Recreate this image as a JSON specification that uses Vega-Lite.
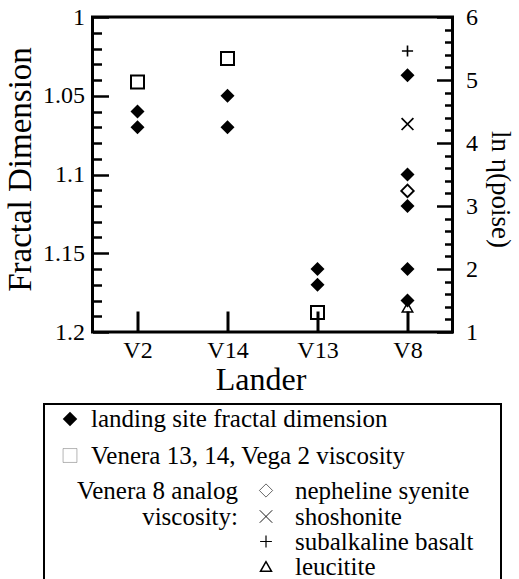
{
  "$schema": "https://vega.github.io/schema/vega-lite/v6.json",
  "background": "white",
  "padding": {"left": 2, "top": 3, "right": 0, "bottom": 0},
  "config": {
    "font": "Liberation Serif",
    "axis": {
      "labelFont": "Liberation Serif",
      "titleFont": "Liberation Serif",
      "labelColor": "black",
      "titleColor": "black",
      "tickColor": "black",
      "titleFontWeight": "normal",
      "domain": false,
      "grid": false,
      "labelOverlap": false,
      "labelFlush": false,
      "tickWidth": 2.5
    }
  },
  "bounds": "flush",
  "center": true,
  "spacing": 72,
  "resolve": {"scale": {"shape": "independent", "fill": "independent", "size": "independent", "strokeWidth": "independent"}},
  "vconcat": [
    {
      "width": 360,
      "height": 315,
      "view": {"stroke": "black", "strokeWidth": 3},
      "resolve": {"scale": {"y": "independent"}, "axis": {"y": "independent"}},
      "encoding": {
        "x": {
          "field": "lander",
          "type": "nominal",
          "sort": ["V2", "V14", "V13", "V8"],
          "scale": {"type": "point", "padding": 0.5},
          "axis": {
            "orient": "bottom",
            "tickSize": -21,
            "tickWidth": 3,
            "labelPadding": 27,
            "labelFont": "Liberation Serif",
            "labelFontSize": 24,
            "labelAngle": 0,
            "title": "Lander",
            "titleFont": "Liberation Serif",
            "titleFontSize": 32,
            "titleX": 168,
            "titleY": 57,
            "titleBaseline": "alphabetic"
          }
        }
      },
      "layer": [
        {
          "data": {"values": [
            {"lander": "V2", "fd": 1.06},
            {"lander": "V2", "fd": 1.07},
            {"lander": "V14", "fd": 1.05},
            {"lander": "V14", "fd": 1.07},
            {"lander": "V13", "fd": 1.16},
            {"lander": "V13", "fd": 1.17},
            {"lander": "V8", "fd": 1.037},
            {"lander": "V8", "fd": 1.10},
            {"lander": "V8", "fd": 1.12},
            {"lander": "V8", "fd": 1.16},
            {"lander": "V8", "fd": 1.18}
          ]},
          "mark": {"type": "point", "shape": "diamond", "filled": true, "color": "black", "size": 196, "opacity": 1},
          "encoding": {
            "y": {
              "field": "fd",
              "type": "quantitative",
              "scale": {"domain": [1, 1.2], "reverse": true, "zero": false, "nice": false},
              "axis": {
                "orient": "left",
                "values": [1, 1.01, 1.02, 1.03, 1.04, 1.05, 1.06, 1.07, 1.08, 1.09, 1.1, 1.11, 1.12, 1.13, 1.14, 1.15, 1.16, 1.17, 1.18, 1.19, 1.2],
                "tickSize": {"condition": {"test": "abs(datum.value*20 - round(datum.value*20)) < 0.001", "value": -16}, "value": -9},
                "labelExpr": "abs(datum.value*20 - round(datum.value*20)) < 0.001 ? format(datum.value, '~g') : ''",
                "labelPadding": 24,
                "labelFont": "Liberation Serif",
                "labelFontSize": 24,
                "title": "Fractal Dimension",
                "titleFont": "Liberation Serif",
                "titleFontSize": 33,
                "titlePadding": 5,
                "titleY": 152
              }
            }
          }
        },
        {
          "data": {"values": [
            {"lander": "V2", "lnv": 4.97, "series": "Venera 13, 14, Vega 2 viscosity"},
            {"lander": "V14", "lnv": 5.34, "series": "Venera 13, 14, Vega 2 viscosity"},
            {"lander": "V13", "lnv": 1.31, "series": "Venera 13, 14, Vega 2 viscosity"},
            {"lander": "V8", "lnv": 3.24, "series": "nepheline syenite"},
            {"lander": "V8", "lnv": 4.30, "series": "shoshonite"},
            {"lander": "V8", "lnv": 5.46, "series": "subalkaline basalt"},
            {"lander": "V8", "lnv": 1.39, "series": "leucitite"}
          ]},
          "mark": {"type": "point", "filled": true, "stroke": "black", "opacity": 1},
          "encoding": {
            "y": {
              "field": "lnv",
              "type": "quantitative",
              "scale": {"domain": [1, 6], "zero": false, "nice": false},
              "axis": {
                "orient": "right",
                "values": [1, 1.2, 1.4, 1.6, 1.8, 2, 2.2, 2.4, 2.6, 2.8, 3, 3.2, 3.4, 3.6, 3.8, 4, 4.2, 4.4, 4.6, 4.8, 5, 5.2, 5.4, 5.6, 5.8, 6],
                "tickSize": {"condition": {"test": "abs(datum.value - round(datum.value)) < 0.001", "value": -16}, "value": -8},
                "labelExpr": "abs(datum.value - round(datum.value)) < 0.001 ? format(datum.value, 'd') : ''",
                "labelPadding": 29,
                "labelFont": "Liberation Serif",
                "labelFontSize": 24,
                "title": "ln η(poise)",
                "titleFont": "Liberation Serif",
                "titleFontSize": 27,
                "titlePadding": 8,
                "titleY": 172
              }
            },
            "shape": {
              "field": "series", "type": "nominal", "legend": null,
              "scale": {
                "domain": ["Venera 13, 14, Vega 2 viscosity", "nepheline syenite", "shoshonite", "subalkaline basalt", "leucitite"],
                "range": ["square", "diamond", "M-1,-1L1,1M1,-1L-1,1", "M-1,0L1,0M0,-1L0,1", "triangle-up"]
              }
            },
            "fill": {
              "field": "series", "type": "nominal", "legend": null,
              "scale": {
                "domain": ["Venera 13, 14, Vega 2 viscosity", "nepheline syenite", "shoshonite", "subalkaline basalt", "leucitite"],
                "range": ["transparent", "transparent", "transparent", "transparent", "transparent"]
              }
            },
            "size": {
              "field": "series", "type": "nominal", "legend": null,
              "scale": {
                "domain": ["Venera 13, 14, Vega 2 viscosity", "nepheline syenite", "shoshonite", "subalkaline basalt", "leucitite"],
                "range": [169, 110, 200, 196, 196]
              }
            },
            "strokeWidth": {
              "field": "series", "type": "nominal", "legend": null,
              "scale": {
                "domain": ["Venera 13, 14, Vega 2 viscosity", "nepheline syenite", "shoshonite", "subalkaline basalt", "leucitite"],
                "range": [2, 1.5, 1.5, 1.5, 1.5]
              }
            }
          }
        }
      ]
    },
    {
      "width": 457,
      "height": 185,
      "view": {"stroke": "black", "strokeWidth": 2},
      "encoding": {
        "x": {"field": "col", "type": "quantitative", "axis": null,
              "scale": {"domain": [1, 2, 3, 4, 5], "range": [26, 47, 194, 222, 251], "zero": false, "nice": false}},
        "y": {"field": "line", "type": "quantitative", "axis": null,
              "scale": {"domain": [1, 2, 3, 4, 5, 6], "range": [15, 51.5, 86.5, 112.5, 137.5, 162.5], "zero": false, "nice": false}}
      },
      "layer": [
        {
          "data": {"values": [
            {"line": 1, "col": 2, "label": "landing site fractal dimension"},
            {"line": 2, "col": 2, "label": "Venera 13, 14, Vega 2 viscosity"},
            {"line": 3, "col": 5, "label": "nepheline syenite"},
            {"line": 4, "col": 5, "label": "shoshonite"},
            {"line": 5, "col": 5, "label": "subalkaline basalt"},
            {"line": 6, "col": 5, "label": "leucitite"}
          ]},
          "mark": {"type": "text", "align": "left", "baseline": "middle", "fontSize": 25, "color": "black", "font": "Liberation Serif"},
          "encoding": {"text": {"field": "label"}}
        },
        {
          "data": {"values": [
            {"line": 3, "col": 3, "label": "Venera 8 analog"},
            {"line": 4, "col": 3, "label": "viscosity:"}
          ]},
          "mark": {"type": "text", "align": "right", "baseline": "middle", "fontSize": 25, "color": "black", "font": "Liberation Serif"},
          "encoding": {"text": {"field": "label"}}
        },
        {
          "data": {"values": [
            {"line": 1, "col": 1, "series": "landing site fractal dimension"},
            {"line": 2, "col": 1, "series": "Venera 13, 14, Vega 2 viscosity"},
            {"line": 3, "col": 4, "series": "nepheline syenite"},
            {"line": 4, "col": 4, "series": "shoshonite"},
            {"line": 5, "col": 4, "series": "subalkaline basalt"},
            {"line": 6, "col": 4, "series": "leucitite"}
          ]},
          "mark": {"type": "point", "filled": true, "stroke": "black", "opacity": 1},
          "encoding": {
            "shape": {
              "field": "series", "type": "nominal", "legend": null,
              "scale": {
                "domain": ["landing site fractal dimension", "Venera 13, 14, Vega 2 viscosity", "nepheline syenite", "shoshonite", "subalkaline basalt", "leucitite"],
                "range": ["diamond", "square", "diamond", "M-1,-1L1,1M1,-1L-1,1", "M-1,0L1,0M0,-1L0,1", "triangle-up"]
              }
            },
            "fill": {
              "field": "series", "type": "nominal", "legend": null,
              "scale": {
                "domain": ["landing site fractal dimension", "Venera 13, 14, Vega 2 viscosity", "nepheline syenite", "shoshonite", "subalkaline basalt", "leucitite"],
                "range": ["black", "transparent", "transparent", "transparent", "transparent", "transparent"]
              }
            },
            "size": {
              "field": "series", "type": "nominal", "legend": null,
              "scale": {
                "domain": ["landing site fractal dimension", "Venera 13, 14, Vega 2 viscosity", "nepheline syenite", "shoshonite", "subalkaline basalt", "leucitite"],
                "range": [210, 121, 120, 130, 144, 150]
              }
            },
            "strokeWidth": {
              "field": "series", "type": "nominal", "legend": null,
              "scale": {
                "domain": ["landing site fractal dimension", "Venera 13, 14, Vega 2 viscosity", "nepheline syenite", "shoshonite", "subalkaline basalt", "leucitite"],
                "range": [0, 1.5, 1.2, 1.2, 1.2, 1.2]
              }
            }
          }
        }
      ]
    }
  ]
}
